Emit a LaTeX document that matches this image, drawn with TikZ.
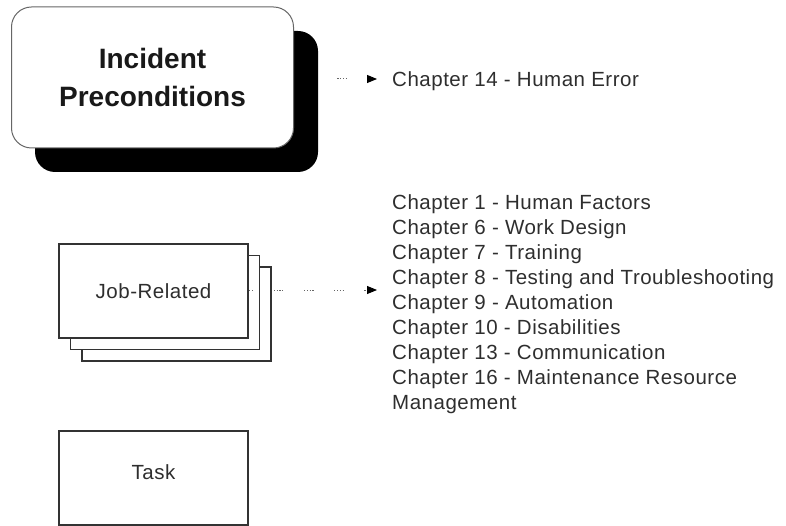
\documentclass[tikz,border=0pt]{standalone}
\usepackage{fontspec}
\setmainfont{Liberation Sans}
\newfontfamily\chapfont[LetterSpace=2.5]{Liberation Sans}
\usetikzlibrary{arrows.meta}

\tikzset{
  titlebox/.style={draw=black!60, line width=1pt, fill=white, rounded corners=20pt,
    minimum width=282pt, minimum height=141pt, inner sep=0pt},
  shadowbox/.style={fill=black, rounded corners=20pt,
    minimum width=283pt, minimum height=141pt, inner sep=0pt},
  card/.style={draw=black!80, line width=1.2pt, fill=white,
    minimum width=189pt, minimum height=94pt, inner sep=0pt},
  dotline/.style={draw=black!60, line width=1pt,
    dash pattern=on 1.2pt off 1.6pt on 1.2pt off 1.6pt on 1.2pt off 1.6pt on 1.2pt off 20.6pt},
  conn/.style={dotline, -{Triangle[length=10pt,width=8pt,color=black,fill=black]}},
  smalltext/.style={font=\chapfont\fontsize{20.5}{25}\selectfont, text=black!82},
  chaptext/.style={smalltext, align=left, inner sep=0pt}
}

\begin{document}
\begin{tikzpicture}[x=1pt,y=-1pt]
\useasboundingbox (0,0) rectangle (786,526);

% rounded title box with its drop shadow
\node[shadowbox] (incshadow) at (176.5,101.5) {};
\node[titlebox, font=\bfseries\fontsize{28}{38}\selectfont, align=center, text=black!90] (inc) at (152.5,77.5)
  {Incident\\Preconditions};

% stacked job cards
\node[card] (job3) at (176.5,314) {};
\node[card] (job2) at (165,302.5) {};
\node[card, smalltext] (job) at (153.5,291) {Job-Related};

% task card, label sits a little above centre
\node[card] (task) at (153.5,478) {};
\node[smalltext] (tasklabel) at (153.5,472) {Task};

% chapter references
\node[chaptext, anchor=west] (ch14) at (392,81) {Chapter 14 - Human Error};
\node[chaptext, anchor=north west] (chlist) at (392,194) {%
Chapter 1 - Human Factors\\
Chapter 6 - Work Design\\
Chapter 7 - Training\\
Chapter 8 - Testing and Troubleshooting\\
Chapter 9 - Automation\\
Chapter 10 - Disabilities\\
Chapter 13 - Communication\\
Chapter 16 - Maintenance Resource\\
Management};

% connectors
\coordinate (tip14) at (377,79);
\coordinate (tipjob) at (377,290);
\draw[conn, dash phase=11pt] (incshadow.east |- tip14) -- (tip14);
\draw[conn, dash phase=5pt] (job.east |- tipjob) -- (tipjob);
\end{tikzpicture}
\end{document}
